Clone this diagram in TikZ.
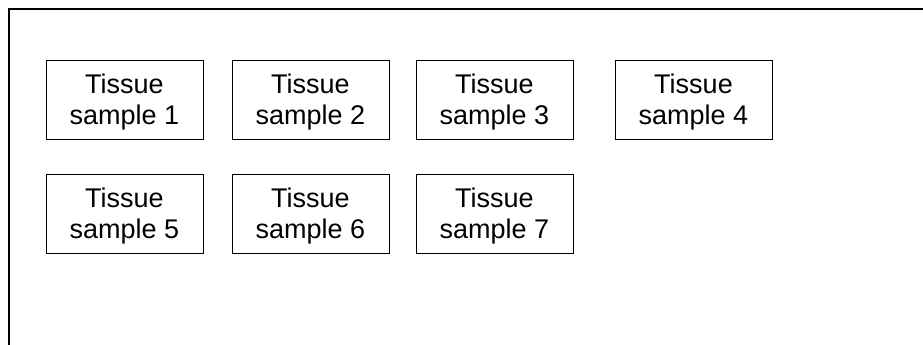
\documentclass[tikz,border=0pt]{standalone}
\usepackage{fontspec}
\setmainfont{Liberation Sans}
\begin{document}
\begin{tikzpicture}[x=1pt,y=-1pt,
  sample/.style={draw=black,line width=0.9pt,minimum width=157pt,minimum height=79pt,
    inner sep=0pt},
  stext/.style={align=center,inner sep=0pt,yshift=-3pt,font=\fontsize{27}{31}\selectfont}]
\useasboundingbox (0,0) rectangle (923,345);
\coordinate (fb) at (9,345);
\coordinate (fc) at (9,9.5);
\coordinate (fr) at (923,9.5);
\draw[line width=2pt] (fb) -- (fc) -- (fr);
\node[sample,label={[stext]center:Tissue\\sample 1}] (s1) at (124.5,99.5) {};
\node[sample,label={[stext]center:Tissue\\sample 2}] (s2) at (310.5,99.5) {};
\node[sample,label={[stext]center:Tissue\\sample 3}] (s3) at (494.5,99.5) {};
\node[sample,label={[stext]center:Tissue\\sample 4}] (s4) at (693.5,99.5) {};
\node[sample,label={[stext]center:Tissue\\sample 5}] (s5) at (124.5,213.5) {};
\node[sample,label={[stext]center:Tissue\\sample 6}] (s6) at (310.5,213.5) {};
\node[sample,label={[stext]center:Tissue\\sample 7}] (s7) at (494.5,213.5) {};
\end{tikzpicture}
\end{document}
